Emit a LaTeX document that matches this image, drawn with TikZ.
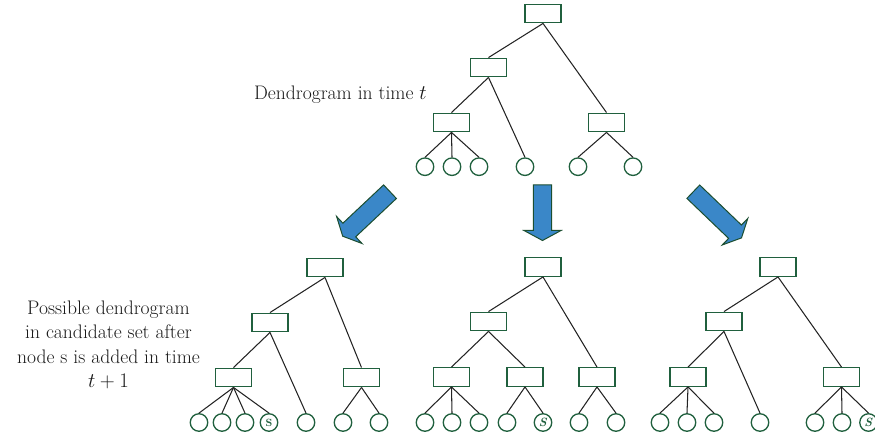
\documentclass[tikz,border=0pt]{standalone}
\usepackage{tikz}
\definecolor{treegreen}{RGB}{32,96,62}
\definecolor{edgegray}{RGB}{35,35,35}
\definecolor{arrowblue}{RGB}{58,135,200}
\definecolor{arrowedge}{RGB}{28,78,48}
\tikzset{
  box/.style={draw=treegreen, line width=1.4pt, minimum width=36pt, minimum height=18.5pt, inner sep=0pt},
  leaf/.style={circle, draw=treegreen, line width=1.3pt, minimum size=17.5pt, inner sep=0pt, font=\fontsize{12}{12}\selectfont\bfseries, text=treegreen},
  edge/.style={draw=edgegray, line width=1.05pt},
  blockarrow/.style={fill=arrowblue, draw=arrowedge, line width=1pt, line join=miter},
  lbl/.style={font=\fontsize{19.6}{24.5}\selectfont, text=black!90, inner sep=0pt}
}
\begin{document}
\begin{tikzpicture}[x=1pt,y=-1pt]
\useasboundingbox (0,0) rectangle (875,438);

% ---------- top tree ----------
\node[box] (T0) at (543,13.5) {};
\node[box] (T1) at (488.5,67.5) {};
\node[box] (T2) at (451.5,122.5) {};
\node[box] (T3) at (606.5,122.5) {};
\node[leaf] (TL1) at (425,166.7) {};
\node[leaf] (TL2) at (452,166.7) {};
\node[leaf] (TL3) at (479,166.7) {};
\node[leaf] (TL4) at (525,166.7) {};
\node[leaf] (TL5) at (578,166.7) {};
\node[leaf] (TL6) at (633,166.7) {};
\draw[edge] (T0.south) -- (T1.north);
\draw[edge] (T0.south) -- (T3.north);
\draw[edge] (T1.south) -- (T2.north);
\draw[edge] (T1.south) -- (TL4.north);
\draw[edge] (T2.south) -- (TL1.north);
\draw[edge] (T2.south) -- (TL2.north);
\draw[edge] (T2.south) -- (TL3.north);
\draw[edge] (T3.south) -- (TL5.north);
\draw[edge] (T3.south) -- (TL6.north);

\node[lbl, anchor=base east] (ttop) at (427,99.5) {Dendrogram in time $t$};

% ---------- arrows ----------
\path[blockarrow] (383.6,184.9) -- (342.9,223.2) -- (336.6,216.5) -- (342.7,236.2)
  -- (362.0,243.5) -- (355.7,236.8) -- (396.4,198.5) -- cycle;
\path[blockarrow] (533.3,185) -- (533.3,230.5) -- (524,230.5) -- (542.5,240.5)
  -- (561,230.5) -- (551.7,230.5) -- (551.7,185) -- cycle;
\path[blockarrow] (699.7,185.0) -- (741.4,225.0) -- (747.8,218.4) -- (741.5,237.9)
  -- (722.2,245.0) -- (728.6,238.4) -- (686.9,198.4) -- cycle;

% ---------- left text ----------
\node[lbl, anchor=base] (p1) at (108.5,314.3) {Possible dendrogram};
\node[lbl, anchor=base] (p2) at (108.5,338.8) {in candidate set after};
\node[lbl, anchor=base] (p3) at (108.5,363.3) {node s is added in time};
\node[lbl, anchor=base] (p4) at (108.5,387.8) {$t + 1$};

% ---------- bottom left tree ----------
\node[box] (A0) at (325,267.5) {};
\node[box] (A1) at (270,322.5) {};
\node[box] (A2) at (233.5,377.5) {};
\node[box] (A3) at (361.5,377.5) {};
\node[leaf] (AL1) at (199,422.5) {};
\node[leaf] (AL2) at (222,422.5) {};
\node[leaf] (AL3) at (245,422.5) {};
\node[leaf] (AL4) at (269,422.5) {\fontsize{10.5}{10.5}\selectfont S};
\node[leaf] (AL5) at (306,422.5) {};
\node[leaf] (AL6) at (343,422.5) {};
\node[leaf] (AL7) at (379,422.5) {};
\draw[edge] (A0.south) -- (A1.north);
\draw[edge] (A0.south) -- (A3.north);
\draw[edge] (A1.south) -- (A2.north);
\draw[edge] (A1.south) -- (AL5.north);
\draw[edge] (A2.south) -- (AL1.north);
\draw[edge] (A2.south) -- (AL2.north);
\draw[edge] (A2.south) -- (AL3.north);
\draw[edge] (A2.south) -- (AL4.north);
\draw[edge] (A3.south) -- (AL6.north);
\draw[edge] (A3.south) -- (AL7.north);

% ---------- bottom middle tree ----------
\node[box] (B0) at (543,267) {};
\node[box] (B1) at (488.5,321.5) {};
\node[box] (B2) at (451.5,377) {};
\node[box] (B3) at (525,377) {};
\node[box] (B4) at (597,377) {};
\node[leaf] (BL1) at (425,422.5) {};
\node[leaf] (BL2) at (452,422.5) {};
\node[leaf] (BL3) at (479,422.5) {};
\node[leaf] (BL4) at (507,422.5) {};
\node[leaf] (BL5) at (543,422.5) {\textit{S}};
\node[leaf] (BL6) at (579,422.5) {};
\node[leaf] (BL7) at (616,422.5) {};
\draw[edge] (B0.south) -- (B1.north);
\draw[edge] (B0.south) -- (B4.north);
\draw[edge] (B1.south) -- (B2.north);
\draw[edge] (B1.south) -- (B3.north);
\draw[edge] (B2.south) -- (BL1.north);
\draw[edge] (B2.south) -- (BL2.north);
\draw[edge] (B2.south) -- (BL3.north);
\draw[edge] (B3.south) -- (BL4.north);
\draw[edge] (B3.south) -- (BL5.north);
\draw[edge] (B4.south) -- (BL6.north);
\draw[edge] (B4.south) -- (BL7.north);

% ---------- bottom right tree ----------
\node[box] (C0) at (778,267) {};
\node[box] (C1) at (724,321.5) {};
\node[box] (C2) at (688,377) {};
\node[box] (C3) at (841.5,377) {};
\node[leaf] (CL1) at (660,422.5) {};
\node[leaf] (CL2) at (687,422.5) {};
\node[leaf] (CL3) at (714,422.5) {};
\node[leaf] (CL4) at (760,422.5) {};
\node[leaf] (CL5) at (815,422.5) {};
\node[leaf] (CL6) at (842,422.5) {};
\node[leaf] (CL7) at (868.5,422.5) {\textit{S}};
\draw[edge] (C0.south) -- (C1.north);
\draw[edge] (C0.south) -- (C3.north);
\draw[edge] (C1.south) -- (C2.north);
\draw[edge] (C1.south) -- (CL4.north);
\draw[edge] (C2.south) -- (CL1.north);
\draw[edge] (C2.south) -- (CL2.north);
\draw[edge] (C2.south) -- (CL3.north);
\draw[edge] (C3.south) -- (CL5.north);
\draw[edge] (C3.south) -- (CL6.north);
\draw[edge] (C3.south) -- (CL7.north);
\end{tikzpicture}
\end{document}
